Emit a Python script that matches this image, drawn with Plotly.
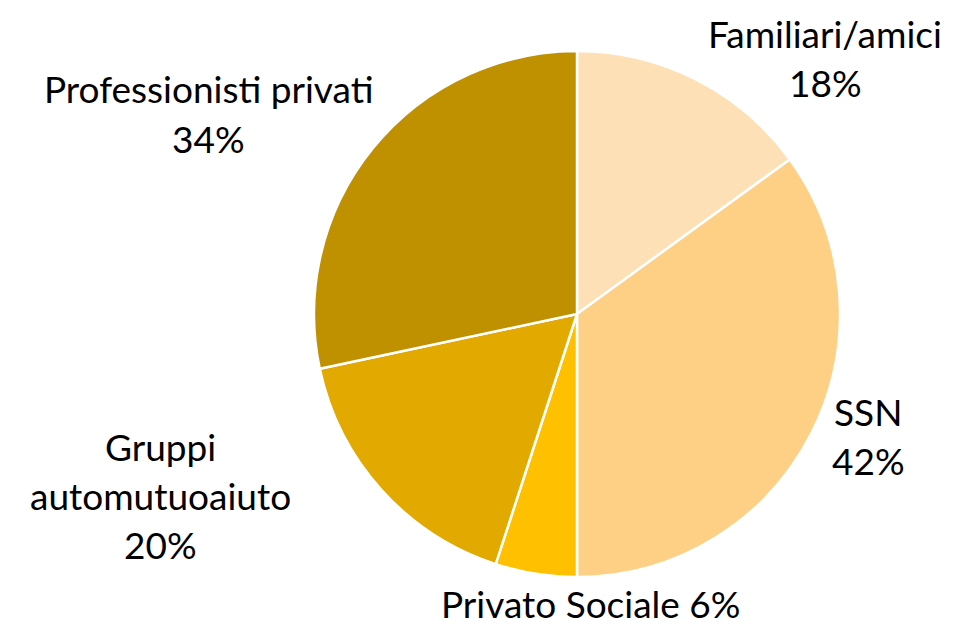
import plotly.graph_objects as go

labels = ["Familiari/amici", "SSN", "Privato Sociale", "Gruppi automutuoaiuto", "Professionisti privati"]
values = [18, 42, 6, 20, 34]
colors = ["#FEE0B6", "#FDD086", "#FFC000", "#E2A900", "#BF9000"]

# how each label is broken into lines (layout only)
label_lines = [
    ["Familiari/amici", "{v}%"],
    ["SSN", "{v}%"],
    ["Privato Sociale {v}%"],
    ["Gruppi", "automutuoaiuto", "{v}%"],
    ["Professionisti privati", "{v}%"],
]
# label anchor in screen pixels (center x, first-line center y)
label_pos = [(825, 33), (868, 411), (590, 603), (160, 446), (208, 89)]
LINE_GAP = 49

# page body has an 8px default margin: figure drawn from (8, 8)
OFF = 8
W, H = 960 - OFF, 626 - OFF
cx, cy, r = 577 - OFF, 314 - OFF, 263

fig = go.Figure(go.Pie(
    labels=labels,
    values=values,
    sort=False,
    direction="clockwise",
    rotation=0,
    marker=dict(colors=colors, line=dict(color="white", width=2.5)),
    textinfo="none",
    hoverinfo="label+value",
    showlegend=False,
    domain=dict(x=[(cx - r) / W, (cx + r) / W], y=[(H - cy - r) / H, (H - cy + r) / H]),
))

FONT = dict(family="Lato, Carlito, Calibri, sans-serif", size=37, color="#000000")
annotations = []
for lines, (px, py), v in zip(label_lines, label_pos, values):
    for i, line in enumerate(lines):
        annotations.append(dict(
            text=line.format(v=v),
            x=(px - OFF) / W, y=1 - (py - OFF + i * LINE_GAP) / H,
            xref="paper", yref="paper",
            xanchor="center", yanchor="middle",
            showarrow=False, font=FONT,
        ))

fig.update_layout(
    width=W, height=H,
    margin=dict(l=0, r=0, t=0, b=0),
    paper_bgcolor="white",
    plot_bgcolor="white",
    annotations=annotations,
)

fig.write_html("out.html")
